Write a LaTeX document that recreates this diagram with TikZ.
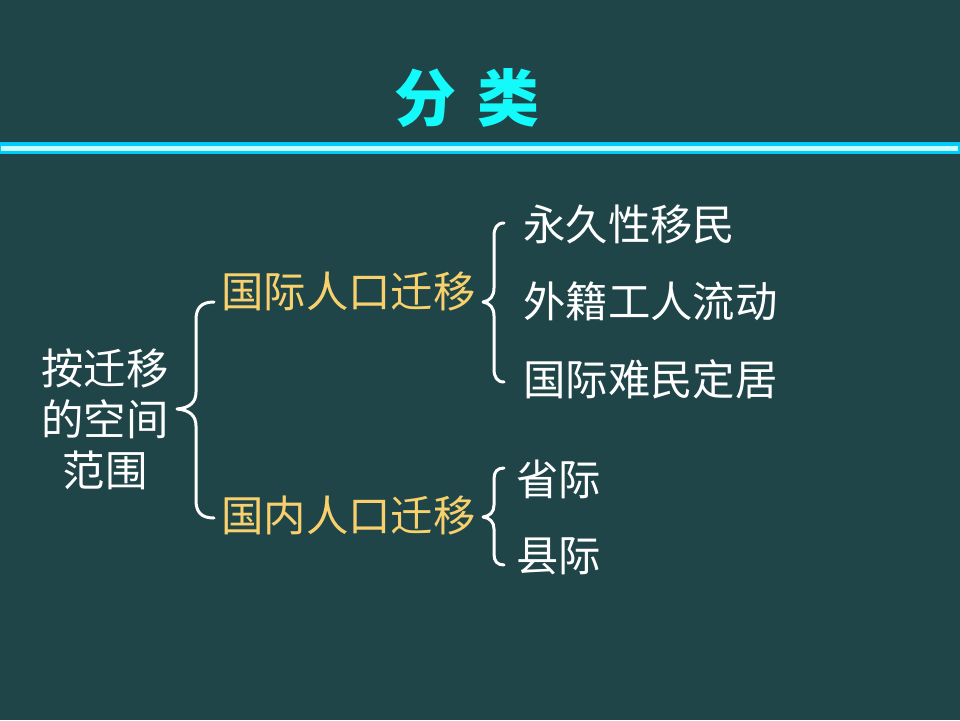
\documentclass[tikz,border=0pt]{standalone}
\usepackage{fontspec}
\newfontfamily\cjk{Noto Sans CJK SC}
\definecolor{bgteal}{RGB}{31,69,72}
\definecolor{titlecyan}{RGB}{20,250,250}
\definecolor{barcyan}{RGB}{0,204,250}
\definecolor{barlight}{RGB}{200,255,255}
\definecolor{goldtxt}{RGB}{248,208,110}
\begin{document}
\begin{tikzpicture}[x=1pt,y=-1pt,
  txt/.style={inner sep=0pt,text=white,font=\cjk\fontsize{42.4}{44}\selectfont},
  gold/.style={txt,text=goldtxt},
  bracepath/.style={draw=white,line width=3pt,line cap=round,line join=round}]
\fill[bgteal] (0,0) rectangle (960,720);
\useasboundingbox (0,0) rectangle (960,720);
% title
\node[inner sep=0pt,text=titlecyan,font=\cjk\bfseries\fontsize{62}{64}\selectfont] (title) at (467,98) {分\hspace{22pt}类};
% bar
\fill[barcyan] (0,142) rectangle (960,154);
\fill[barlight] (1,146) rectangle (958,150.5);
% left text
\node[txt,align=center,font=\cjk\fontsize{42.4}{51}\selectfont] (scope) at (105,419) {按迁移\\的空间\\范围};
% middle
\node[gold,anchor=west] (intl) at (221,291) {国际人口迁移};
\node[gold,anchor=west] (dom) at (221,515) {国内人口迁移};
% right
\node[txt,anchor=west] (a1) at (523,224) {永久性移民};
\node[txt,anchor=west] (a2) at (523,301) {外籍工人流动};
\node[txt,anchor=west] (a3) at (523,379) {国际难民定居};
\node[txt,anchor=west] (b1) at (516,479) {省际};
\node[txt,anchor=west] (b2) at (516,556) {县际};
% big brace
\draw[bracepath] (214,302) .. controls (201,302) and (196,308) .. (196,320)
  -- (196,392) .. controls (196,402) and (190,408) .. (177,409)
  .. controls (190,410) and (196,416) .. (196,426)
  -- (196,500) .. controls (196,512) and (201,518) .. (214,518);
% upper right brace
\draw[bracepath] (504,223) .. controls (497,223) and (494,228) .. (494,236)
  -- (494,288) .. controls (494,296) and (490,301) .. (483,302)
  .. controls (490,303) and (494,308) .. (494,316)
  -- (494,369) .. controls (494,377) and (497,382) .. (504,382);
% lower right brace
\draw[bracepath] (504,468) .. controls (497,468) and (494,472) .. (494,479)
  -- (494,505) .. controls (494,512) and (490,516) .. (483,517)
  .. controls (490,518) and (494,522) .. (494,529)
  -- (494,554) .. controls (494,561) and (497,565) .. (504,565);
\end{tikzpicture}
\end{document}
